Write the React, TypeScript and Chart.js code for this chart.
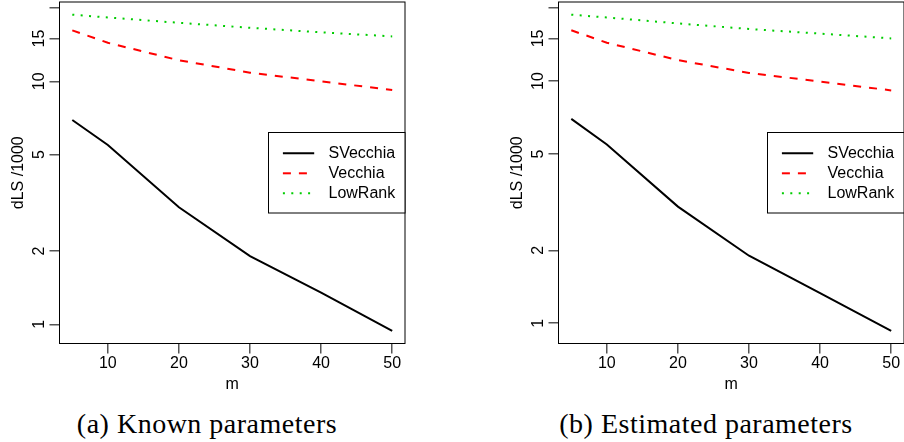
import React, { useEffect, useRef } from "react";
import { Chart, registerables } from "chart.js";

Chart.register(...registerables);

// ---- data ----
const mValues = [5, 10, 20, 30, 40, 50];
const seriesNames = ["SVecchia", "Vecchia", "LowRank"];
const knownSVecchia = [6.93, 5.47, 3.03, 1.91, 1.35, 0.94];
const knownVecchia = [16.2, 14.4, 12.2, 10.85, 10.0, 9.2];
const knownLowRank = [18.8, 18.3, 17.4, 16.6, 15.9, 15.3];
const estSVecchia = [6.98, 5.47, 3.03, 1.9, 1.33, 0.93];
const estVecchia = [16.2, 14.4, 12.2, 10.8, 9.95, 9.15];
const estLowRank = [18.8, 18.3, 17.3, 16.4, 15.7, 15.0];
const xTicks = [10, 20, 30, 40, 50];
const yTicks = [1, 2, 5, 10, 15, 20];
const yTickLabels = ["1", "2", "5", "10", "15", ""];
const xTitle = "m";
const yTitle = "dLS /1000";
const captions = ["(a) Known parameters", "(b) Estimated parameters"];

// ---- styles ----
const SANS = "'Liberation Sans', Arial, Helvetica, sans-serif";
const SERIF = "'Liberation Serif', 'Times New Roman', serif";
const COLORS = ["#000000", "#FF0000", "#00CD00"];
const DASHES: number[][] = [[], [8, 8], [2, 6.4]];

function rangeR(vals: number[], log: boolean): [number, number] {
  const v = log ? vals.map((x) => Math.log10(x)) : vals;
  const lo = Math.min(...v);
  const hi = Math.max(...v);
  const ext = (hi - lo) * 0.04;
  return log ? [Math.pow(10, lo - ext), Math.pow(10, hi + ext)] : [lo - ext, hi + ext];
}

const boxPlugin = {
  id: "rBox",
  afterDatasetsDraw(chart: any) {
    const { ctx, chartArea: a } = chart;
    ctx.save();
    ctx.strokeStyle = "#000";
    ctx.lineWidth = 1;
    ctx.strokeRect(a.left, a.top, a.right - a.left, a.bottom - a.top);
    ctx.restore();
  },
};

const legendPlugin = {
  id: "rLegend",
  afterDraw(chart: any) {
    const { ctx, chartArea: a } = chart;
    const w = 136.5;
    const h = 80.5;
    const x0 = a.right - w;
    const y0 = (a.top + a.bottom) / 2 - h / 2;
    ctx.save();
    ctx.fillStyle = "#fff";
    ctx.fillRect(x0, y0, w, h);
    ctx.strokeStyle = "#000";
    ctx.lineWidth = 1;
    ctx.strokeRect(x0, y0, w, h);
    chart.data.datasets.forEach((ds: any, i: number) => {
      const cy = y0 + 20.8 + i * 20;
      ctx.beginPath();
      ctx.setLineDash(ds.borderDash || []);
      ctx.strokeStyle = ds.borderColor;
      ctx.lineWidth = ds.borderWidth;
      ctx.moveTo(x0 + 14.4, cy);
      ctx.lineTo(x0 + 45.7, cy);
      ctx.stroke();
      ctx.setLineDash([]);
      ctx.fillStyle = "#000";
      ctx.font = `16px ${SANS}`;
      ctx.textBaseline = "middle";
      ctx.textAlign = "left";
      ctx.fillText(ds.label, x0 + 60, cy);
    });
    ctx.restore();
  },
};

function Panel({ series, left }: { series: number[][]; left: number }) {
  const ref = useRef<HTMLCanvasElement | null>(null);
  useEffect(() => {
    if (!ref.current) return;
    const xr = rangeR(mValues, false);
    const yr = rangeR(series.flat(), true);
    const gridOpts = {
      drawOnChartArea: false,
      drawTicks: true,
      tickLength: 10,
      color: "#555",
      lineWidth: 1.5,
    };
    const chart = new Chart(ref.current, {
      type: "line",
      data: {
        datasets: series.map((vals, i) => ({
          label: seriesNames[i],
          data: mValues.map((m, j) => ({ x: m, y: vals[j] })),
          borderColor: COLORS[i],
          backgroundColor: COLORS[i],
          borderDash: DASHES[i],
          borderWidth: 2,
          pointRadius: 0,
          tension: 0,
          fill: false,
        })),
      },
      options: {
        animation: false,
        responsive: false,
        maintainAspectRatio: false,
        devicePixelRatio: 1,
        layout: { padding: { left: 0, top: 2, right: 47, bottom: 0 } },
        plugins: { legend: { display: false }, tooltip: { enabled: false } },
        scales: {
          x: {
            type: "linear",
            min: xr[0],
            max: xr[1],
            afterBuildTicks: (s: any) => {
              s.ticks = xTicks.map((v) => ({ value: v }));
            },
            afterFit: (s: any) => {
              s.height = 56.5;
              s.paddingLeft = 0;
              s.paddingRight = 0;
            },
            ticks: {
              autoSkip: false,
              maxRotation: 0,
              minRotation: 0,
              padding: 0,
              color: "#000",
              font: { family: SANS, size: 16 },
              callback: (v: any) => String(v),
            },
            grid: gridOpts,
            border: { display: false },
            title: {
              display: true,
              text: xTitle,
              color: "#000",
              font: { family: SANS, size: 16 },
              padding: { top: 0, bottom: 6 },
            },
          },
          y: {
            type: "logarithmic",
            min: yr[0],
            max: yr[1],
            afterBuildTicks: (s: any) => {
              s.ticks = yTicks.map((v) => ({ value: v }));
            },
            afterFit: (s: any) => {
              s.width = 59.5;
              s.paddingTop = 0;
              s.paddingBottom = 0;
            },
            ticks: {
              autoSkip: false,
              minRotation: 90,
              maxRotation: 90,
              crossAlign: "center",
              padding: 1,
              color: "#000",
              font: { family: SANS, size: 16 },
              callback: (_v: any, idx: number) => yTickLabels[idx],
            },
            grid: gridOpts,
            border: { display: false },
            title: {
              display: true,
              text: yTitle,
              color: "#000",
              font: { family: SANS, size: 16 },
              padding: { top: 9.4, bottom: 0 },
            },
          },
        },
      } as any,
      plugins: [boxPlugin, legendPlugin],
    });
    return () => chart.destroy();
  }, [series]);
  return (
    <canvas
      ref={ref}
      width={452}
      height={400}
      style={{ position: "absolute", left, top: 0, width: 452, height: 400 }}
    />
  );
}

const knownSeries = [knownSVecchia, knownVecchia, knownLowRank];
const estSeries = [estSVecchia, estVecchia, estLowRank];

export default function App() {
  const capStyle = (center: number): React.CSSProperties => ({
    position: "absolute",
    left: center - 200,
    width: 400,
    top: 409.5,
    height: 28,
    lineHeight: "28px",
    textAlign: "center",
    fontFamily: SERIF,
    fontSize: 28,
    letterSpacing: "0.5px",
    color: "#000",
    whiteSpace: "nowrap",
  });
  return (
    <div
      style={{
        position: "fixed",
        left: 0,
        top: 0,
        width: 904,
        height: 442,
        overflow: "hidden",
        background: "#fff",
      }}
    >
      <Panel series={knownSeries} left={0} />
      <Panel series={estSeries} left={499} />
      <div style={capStyle(207)}>{captions[0]}</div>
      <div style={capStyle(706)}>{captions[1]}</div>
    </div>
  );
}
